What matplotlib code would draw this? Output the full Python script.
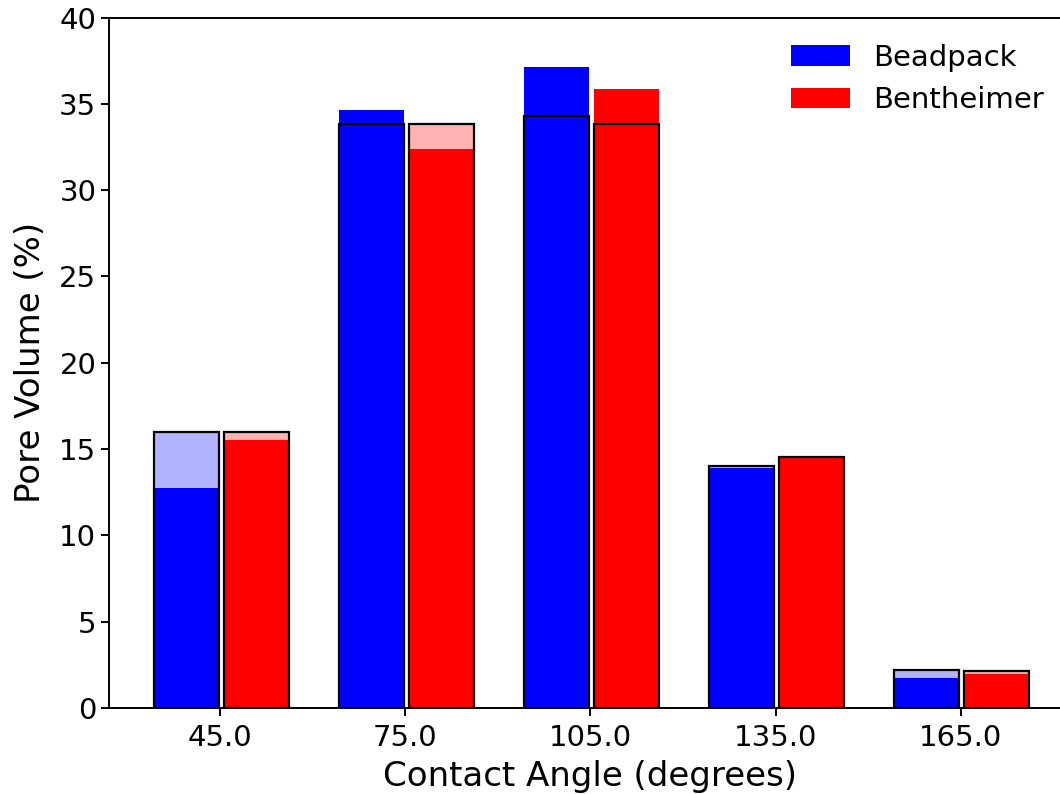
import matplotlib
matplotlib.use("Agg")
import matplotlib.pyplot as plt
import numpy as np

# Contact angle bin centres (degrees)
angles = [45.0, 75.0, 105.0, 135.0, 165.0]
angle_labels = ["45.0", "75.0", "105.0", "135.0", "165.0"]

# Pore volume fraction (%) per contact-angle bin
beadpack = [12.76, 34.65, 37.16, 13.89, 1.76]
bentheimer = [15.53, 32.39, 35.88, 14.50, 1.95]

# Reference distributions drawn as outlined translucent bars
beadpack_ref = [16.01, 33.82, 34.32, 14.04, 2.20]
bentheimer_ref = [16.01, 33.82, 33.82, 14.52, 2.14]

plt.rcParams["font.family"] = "DejaVu Sans"

fig = plt.figure(figsize=(10.6, 7.94), dpi=100)
ax = fig.add_axes([0.1033, 0.1083, 0.906, 0.8696])

x = np.array(angles)
width = 10.5
left_blue = x - 10.75
left_red = x + 0.6

ax.bar(left_blue, beadpack, width=width, align="edge", color="#0000ff",
       label="Beadpack", zorder=2)
ax.bar(left_red, bentheimer, width=width, align="edge", color="#ff0000",
       label="Bentheimer", zorder=2)

# translucent fill, opaque black outline
ax.bar(left_blue, beadpack_ref, width=width, align="edge",
       facecolor=(0, 0, 1, 0.3), edgecolor="black", linewidth=1.6, zorder=3)
ax.bar(left_red, bentheimer_ref, width=width, align="edge",
       facecolor=(1, 0, 0, 0.3), edgecolor="black", linewidth=1.6, zorder=3)

ax.set_xlim(27.05, 182.7)
ax.set_ylim(0, 40)
ax.set_xticks(angles)
ax.set_xticklabels(angle_labels)
ax.set_yticks(np.arange(0, 41, 5))

ax.tick_params(axis="both", labelsize=21, length=6, width=1.4)
ax.tick_params(axis="x", pad=5.5)
for side in ("left", "bottom", "top"):
    ax.spines[side].set_linewidth(1.4)
ax.spines["right"].set_visible(False)

ax.set_xlabel("Contact Angle (degrees)", fontsize=24.5, labelpad=6)
ax.set_ylabel("Pore Volume (%)", fontsize=24.5, labelpad=9)

ax.legend(loc="upper right", frameon=False, fontsize=21,
          handlelength=2.0, borderaxespad=0.5)

fig.savefig("out.png", dpi=100)
